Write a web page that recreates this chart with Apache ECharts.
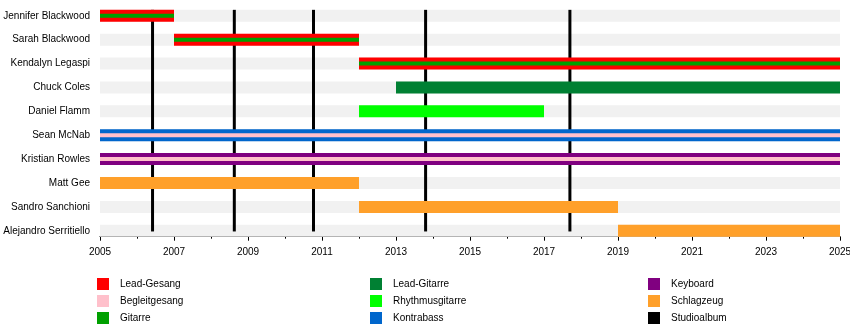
<!DOCTYPE html>
<html>
<head>
<meta charset="utf-8">
<script src="https://cdn.jsdelivr.net/npm/echarts@6/dist/echarts.min.js"></script>
<style>
  html, body { margin: 0; padding: 0; background: #fff; }
  #chart { width: 850px; height: 335px; }
</style>
</head>
<body>
<div id="chart"></div>
<script>
// Band members, top to bottom
const members = [
  'Jennifer Blackwood', 'Sarah Blackwood', 'Kendalyn Legaspi', 'Chuck Coles',
  'Daniel Flamm', 'Sean McNab', 'Kristian Rowles', 'Matt Gee',
  'Sandro Sanchioni', 'Alejandro Serritiello'
];
const startYears = [2005, 2007, 2012, 2013, 2012, 2005, 2005, 2005, 2012, 2019];
const endYears   = [2007, 2012, 2025, 2025, 2017, 2025, 2025, 2012, 2019, 2025];
const mainRoles = [
  'Lead-Gesang', 'Lead-Gesang', 'Lead-Gesang', 'Lead-Gitarre',
  'Rhythmusgitarre', 'Kontrabass', 'Keyboard', 'Schlagzeug',
  'Schlagzeug', 'Schlagzeug'
];
const secondRoles = [
  'Gitarre', 'Gitarre', 'Gitarre', null,
  null, 'Begleitgesang', 'Begleitgesang', null,
  null, null
];

// Roles and their colours
const roleNames  = ['Lead-Gesang', 'Begleitgesang', 'Gitarre', 'Lead-Gitarre', 'Rhythmusgitarre', 'Kontrabass', 'Keyboard', 'Schlagzeug'];
const roleColors = ['#ff0000', '#ffc0cb', '#00a000', '#008033', '#00ff00', '#0066cc', '#800080', '#ffa02a'];

// Studio album release dates
const albumName = 'Studioalbum';
const albumYears = [2006.42, 2008.63, 2010.77, 2013.8, 2017.7];

// Time axis range
const yearMin = 2005;
const yearMax = 2025;

const FONT = '"Liberation Sans", Arial, sans-serif';
const BAR_H = 12;
const STRIPE_H = 4;

const chart = echarts.init(document.getElementById('chart'), null, { renderer: 'canvas' });

// Light row backgrounds
const backgroundSeries = {
  type: 'custom',
  silent: true,
  z: 1,
  data: members.map((m, i) => [yearMin, yearMax, i]),
  encode: { x: [0, 1], y: 2 },
  renderItem: (params, api) => {
    const a = api.coord([api.value(0), api.value(2)]);
    const b = api.coord([api.value(1), api.value(2)]);
    return {
      type: 'rect',
      shape: { x: a[0], y: a[1] - BAR_H / 2, width: b[0] - a[0], height: BAR_H },
      style: { fill: '#f1f1f1' }
    };
  }
};

// Vertical lines for album releases
const albumSeries = {
  name: albumName,
  type: 'custom',
  silent: true,
  z: 2,
  itemStyle: { color: '#000' },
  data: albumYears.map(y => [y]),
  encode: { x: 0 },
  renderItem: (params, api) => {
    const top = api.coord([api.value(0), 0]);
    const bot = api.coord([api.value(0), members.length - 1]);
    return {
      type: 'rect',
      shape: { x: top[0] - 1.5, y: top[1] - BAR_H / 2, width: 3, height: bot[1] - top[1] + BAR_H / 2 + 0.7 },
      style: { fill: '#000' }
    };
  }
};

// One series per role: main-role bars and thin secondary-role stripes
const roleSeries = roleNames.map((role, r) => {
  const data = [];
  members.forEach((m, i) => {
    if (mainRoles[i] === role) data.push([startYears[i], endYears[i], i, 0]);
    if (secondRoles[i] === role) data.push([startYears[i], endYears[i], i, 1]);
  });
  const isSecondary = secondRoles.includes(role);
  return {
    name: role,
    type: 'custom',
    silent: true,
    z: isSecondary ? 4 : 3,
    itemStyle: { color: roleColors[r] },
    data: data,
    encode: { x: [0, 1], y: 2 },
    renderItem: (params, api) => {
      const a = api.coord([api.value(0), api.value(2)]);
      const b = api.coord([api.value(1), api.value(2)]);
      const h = api.value(3) ? STRIPE_H : BAR_H;
      return {
        type: 'rect',
        shape: { x: a[0], y: a[1] - h / 2, width: b[0] - a[0], height: h },
        style: { fill: roleColors[r] }
      };
    }
  };
});

const legendCommon = {
  orient: 'vertical',
  top: 278,
  padding: 0,
  icon: 'rect',
  itemWidth: 12,
  itemHeight: 12,
  itemGap: 5,
  selectedMode: false,
  textStyle: { fontFamily: FONT, fontSize: 10, color: '#000', padding: [0, 0, 0, 6] }
};

chart.setOption({
  animation: false,
  backgroundColor: '#fff',
  grid: { left: 100, right: 10, top: 3.9, height: 238.8, outerBoundsMode: 'none', containLabel: false },
  xAxis: {
    type: 'value',
    min: yearMin,
    max: yearMax,
    interval: 2,
    offset: -6,
    axisLine: { show: true, lineStyle: { color: '#000', width: 1 } },
    axisTick: { show: true, length: 4, lineStyle: { color: '#000' } },
    minorTick: { show: true, splitNumber: 2, length: 2, lineStyle: { color: '#000' } },
    splitLine: { show: false },
    axisLabel: { fontFamily: FONT, fontSize: 10, color: '#000', margin: 11, formatter: v => String(v) }
  },
  yAxis: {
    type: 'category',
    data: members,
    inverse: true,
    axisLine: { show: false },
    axisTick: { show: false },
    splitLine: { show: false },
    axisLabel: { fontFamily: FONT, fontSize: 10, color: '#000', margin: 10 }
  },
  legend: [
    Object.assign({}, legendCommon, { left: 97, data: ['Lead-Gesang', 'Begleitgesang', 'Gitarre'] }),
    Object.assign({}, legendCommon, { left: 370, data: ['Lead-Gitarre', 'Rhythmusgitarre', 'Kontrabass'] }),
    Object.assign({}, legendCommon, { left: 648, data: ['Keyboard', 'Schlagzeug', albumName] })
  ],
  series: [backgroundSeries, albumSeries].concat(roleSeries)
});
</script>
</body>
</html>
